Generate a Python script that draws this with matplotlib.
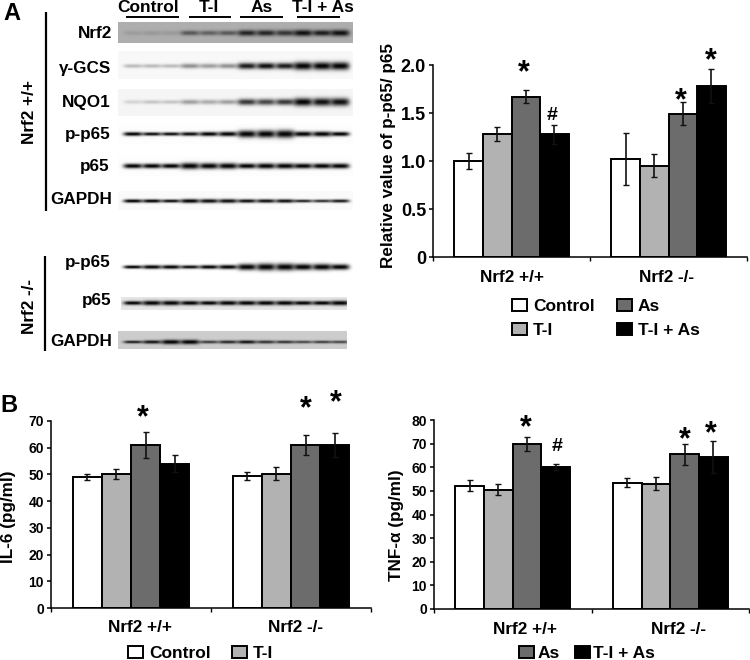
import numpy as np
import matplotlib
matplotlib.use("Agg")
import matplotlib.pyplot as plt

plt.rcParams['font.family'] = ['Liberation Sans', 'DejaVu Sans']
plt.rcParams['font.weight'] = 'bold'
plt.rcParams['axes.labelweight'] = 'bold'

# ---------- data ----------
treatments = ['Control', 'T-I', 'As', 'T-I + As']
genotypes = ['Nrf2 +/+', 'Nrf2 -/-']
colors = ['#ffffff', '#b2b2b2', '#6c6c6c', '#000000']

pp65_vals = [[1.00, 1.02], [1.28, 0.95], [1.67, 1.49], [1.28, 1.78]]
pp65_errs = [[0.08, 0.27], [0.07, 0.12], [0.07, 0.12], [0.10, 0.18]]
il6_vals = [[49.0, 49.5], [50.3, 50.3], [61.0, 61.0], [54.0, 61.0]]
il6_errs = [[1.1, 1.4], [1.9, 2.3], [4.8, 3.8], [3.2, 4.5]]
tnf_vals = [[52.2, 53.5], [50.5, 53.0], [69.7, 65.5], [60.0, 64.3]]
tnf_errs = [[2.3, 1.9], [2.4, 2.7], [3.0, 4.4], [1.3, 6.8]]

blot_labels = ['Nrf2', 'γ-GCS', 'NQO1', 'p-p65', 'p65', 'GAPDH', 'p-p65', 'p65', 'GAPDH']
blot_darkness = [
    [.10, .12, .12, .50, .45, .50, .80, .80, .70, .92, .85, .92],
    [.25, .25, .25, .42, .36, .42, .90, .95, .90, 1.0, 1.0, 1.0],
    [.14, .20, .20, .35, .30, .35, .78, .72, .78, 1.0, .95, .95],
    [1.0, .95, .95, .95, 1.0, 1.0, 1.0, 1.0, 1.0, 1.0, 1.0, 1.0],
    [1.0, 1.0, 1.0, 1.0, 1.0, 1.0, 1.0, 1.0, 1.0, 1.0, 1.0, 1.0],
    [1.0, 1.0, .95, 1.0, .95, .95, .95, .95, .95, .85, .80, .90],
    [1.0, 1.0, 1.0, .95, 1.0, 1.0, 1.0, 1.0, 1.0, 1.0, 1.0, 1.0],
    [1.0, 1.0, 1.0, 1.0, 1.0, 1.0, 1.0, 1.0, 1.0, 1.0, 1.0, 1.0],
    [.85, .90, 1.0, 1.0, .70, .80, .90, .75, .75, .65, .70, .65],
]
blot_thickness = [
    [2.5, 2.5, 2.5, 2.5, 2.5, 2.5, 3.0, 3.0, 3.0, 3.2, 3.0, 3.2],
    [2.0, 2.0, 2.0, 2.5, 2.5, 2.5, 3.2, 3.2, 3.2, 4.0, 4.0, 4.0],
    [2.0, 2.0, 2.0, 2.5, 2.5, 2.5, 3.2, 3.2, 3.2, 4.0, 4.0, 4.0],
    [2.0, 1.8, 1.8, 2.0, 2.2, 2.4, 3.6, 3.8, 4.0, 2.6, 2.6, 2.2],
    [2.4, 2.4, 2.4, 3.2, 3.0, 3.0, 2.6, 2.8, 2.8, 2.6, 2.6, 2.6],
    [1.8, 1.8, 1.7, 2.1, 2.1, 2.1, 1.9, 1.9, 1.9, 1.6, 1.6, 1.7],
    [1.7, 2.0, 2.0, 1.8, 2.0, 2.2, 3.2, 3.6, 3.6, 3.2, 3.2, 2.8],
    [2.0, 2.4, 2.4, 2.2, 2.1, 2.3, 2.3, 2.3, 2.3, 2.1, 2.1, 2.4],
    [1.5, 1.8, 2.3, 2.3, 1.6, 1.7, 1.8, 1.7, 1.6, 1.5, 1.5, 1.5],
]
blot_background = [.68, .97, .96, .99, .99, .98, 1.0, .90, .80]

# ---------- layout (pixels) ----------
W, H = 750, 660
fig = plt.figure(figsize=(W / 100, H / 100), dpi=100)
ov = fig.add_axes([0, 0, 1, 1], zorder=0)


def px_axes(x0, x1, ytop, ybot):
    return fig.add_axes([x0 / W, 1 - ybot / H, (x1 - x0) / W, (ybot - ytop) / H],
                        zorder=2, facecolor='none')


# --- blot strips
row_y = [33, 66, 102, 134, 166, 201, 267, 303, 342]
row_box = [(118, 353, 22, 43), (118, 353, 51, 79), (118, 353, 89, 116), (118, 353, 124, 144),
           (118, 353, 156, 176), (118, 353, 191, 210), (118, 353, 258, 276),
           (121, 347, 297, 310), (118, 347, 331, 349)]
lane_x = np.array([133, 152, 171, 190, 209, 228, 247, 266, 285, 303, 322, 340])
label_right = [112, 111, 111, 111, 109, 112, 111, 111, 112]
label_y = [33, 68, 102, 135, 166, 200, 262, 300, 341]

for i in range(9):
    x0, x1, y0, y1 = row_box[i]
    xs = np.arange(x0, x1) + .5
    ys = np.arange(y0, y1) + .5
    d = np.array(blot_darkness[i])
    t = np.array(blot_thickness[i])
    bg = blot_background[i]
    img = np.full((len(ys), len(xs)), bg)
    for lx, dk, th in zip(lane_x, d, t):
        prof_x = np.exp(-((xs - lx) / 9.5) ** 4)
        prof_y = np.exp(-((ys[:, None] - row_y[i]) / th) ** 2)
        img = img * (1 - dk * .98 * prof_y * prof_x)
    ov.imshow(img, extent=(x0, x1, y1, y0), cmap='gray', vmin=0, vmax=1,
              aspect='auto', interpolation='bilinear', zorder=1)
    ov.text(label_right[i], label_y[i], blot_labels[i], ha='right', va='center',
            fontsize=12.3, zorder=3)

ov.set_xlim(0, W)
ov.set_ylim(H, 0)
ov.axis('off')

for name, xc, (a, b) in zip(treatments, [148, 209, 262, 323],
                            [(126, 179), (189, 231), (240, 283), (297, 340)]):
    ov.text(xc, 7, name, ha='center', va='center', fontsize=12.5)
    ov.plot([a, b], [17, 17], color='k', lw=1.4, solid_capstyle='butt')
ov.plot([46, 46], [12, 211], color='k', lw=1.6, solid_capstyle='butt')
ov.plot([45, 45], [256, 351], color='k', lw=1.6, solid_capstyle='butt')
ov.text(30, 112, genotypes[0], rotation=90, ha='center', va='center', fontsize=12.3)
ov.text(30, 307, genotypes[1], rotation=90, ha='center', va='center', fontsize=12.3)
ov.text(3, 13, 'A', fontsize=17, ha='left', va='center')
ov.text(0, 405, 'B', fontsize=17, ha='left', va='center')


def bar_chart(box, vals, errs, ymax, step, ylabel, ylab_xy, fmt, tick_fs, label_pos):
    ax = px_axes(*box)
    width = 0.182
    for k in range(4):
        pos = [g + 0.5 + (k - 1.5) * width for g in range(2)]
        ax.bar(pos, vals[k], width=width, color=colors[k], edgecolor='k', linewidth=1.4,
               label=treatments[k], zorder=2)
        ax.errorbar(pos, vals[k], yerr=errs[k], fmt='none', ecolor='#111111',
                    elinewidth=1.2, capsize=2.2, capthick=1.0, zorder=3)
    ax.set_xlim(0, 2)
    ax.set_ylim(0, ymax)
    ax.spines[['top', 'right']].set_visible(False)
    ax.spines[['left', 'bottom']].set_linewidth(1.1)
    ax.set_yticks(np.arange(0, ymax + step / 2, step))
    ax.set_yticklabels([fmt(v) for v in np.arange(0, ymax + step / 2, step)], fontsize=tick_fs)
    ax.tick_params(axis='y', length=3, width=1.1, pad=2)
    ax.set_xticks([0, 1, 2])
    ax.set_xticklabels([])
    ax.tick_params(axis='x', length=3, width=1.0)
    ax.set_xticks(label_pos, labels=genotypes, minor=True, fontsize=12.3)
    ax.tick_params(axis='x', which='minor', length=0, pad=9)
    ax.set_ylabel(ylabel, fontsize=12.3)
    ax.yaxis.set_label_coords(ylab_xy[0], ylab_xy[1], transform=ov.transData)
    ax.yaxis.label.set_va('center')
    return ax


def mark(ax, x_bar, y, s='*'):
    """x_bar in category units; y in data units (centre of the glyph)."""
    if s == '*':
        ax.annotate(s, (x_bar, y), xytext=(0, -11.5), textcoords='offset points',
                    ha='center', va='baseline', fontsize=22, annotation_clip=False)
    else:
        ax.annotate(s, (x_bar, y), xytext=(0, -5), textcoords='offset points',
                    ha='center', va='baseline', fontsize=14, annotation_clip=False)


axA = bar_chart((433, 747, 65, 257), pp65_vals, pp65_errs, 2.0, 0.5,
                'Relative value of p-p65/ p65', (388, 155),
                lambda v: '0' if v == 0 else f'{v:.1f}', 13, [0.506, 1.49])
axB1 = bar_chart((51, 371, 421, 608), il6_vals, il6_errs, 70, 10,
                 'IL-6 (pg/ml)', (9, 517), lambda v: f'{v:.0f}', 10, [0.556, 1.53])
axB2 = bar_chart((434, 749, 420, 609), tnf_vals, tnf_errs, 80, 10,
                 'TNF-α (pg/ml)', (397, 525), lambda v: f'{v:.0f}', 10, [0.575, 1.55])

for x, y, s in [(0.58, 2.0, '*'), (0.76, 1.50, '#'), (1.58, 1.71, '*'), (1.77, 2.125, '*')]:
    mark(axA, x, y, s)
for x, y in [(0.575, 74.2), (1.59, 77.2), (1.78, 79.5)]:
    mark(axB1, x, y)
for x, y, s in [(0.58, 80, '*'), (0.78, 69.8, '#'), (1.59, 74.7, '*'), (1.76, 77.3, '*')]:
    mark(axB2, x, y, s)


def figpos(x, y):
    return (x / W, 1 - y / H)


lg_kw = dict(frameon=False, loc='upper left', borderaxespad=0, borderpad=0,
             handlelength=0.85, handleheight=0.7, fontsize=12.5, bbox_transform=fig.transFigure)

h, l = axA.get_legend_handles_labels()
axA.legend(h, l, ncol=2, bbox_to_anchor=figpos(512, 299), handletextpad=0.35,
           columnspacing=1.3, labelspacing=0.5, **lg_kw)
h, l = axB1.get_legend_handles_labels()
axB1.legend(h[:2], l[:2], ncol=2, bbox_to_anchor=figpos(128, 646), handletextpad=0.35,
            columnspacing=1.25, **lg_kw)
h, l = axB2.get_legend_handles_labels()
axB2.legend(h[2:], l[2:], ncol=2, bbox_to_anchor=figpos(519, 646), handletextpad=0.2,
            columnspacing=0.9, **lg_kw)

fig.savefig('out.png', dpi=100)
